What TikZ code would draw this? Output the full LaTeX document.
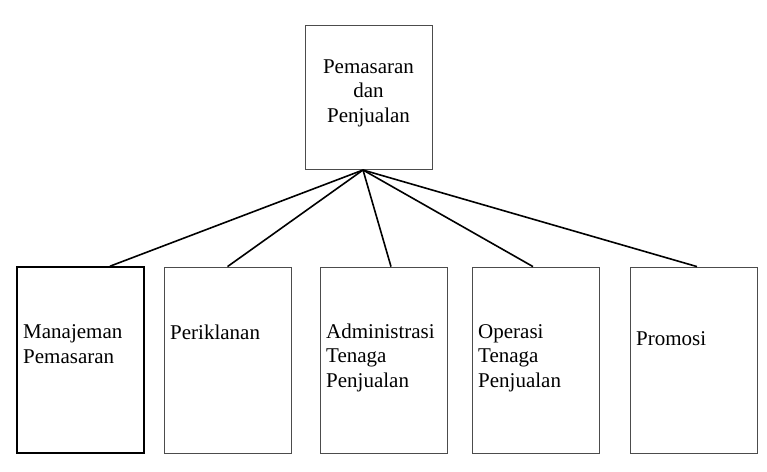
\documentclass[tikz,border=0pt]{standalone}
\usepackage{fontspec}
\setmainfont{Liberation Serif}
\begin{document}
\begin{tikzpicture}[x=1pt,y=-1pt,
        unitbox/.style={draw=black!70,line width=0.8pt,rectangle,inner sep=0pt,minimum width=127pt,minimum height=186pt},
        unittext/.style={inner sep=0pt,align=left,anchor=base west,font=\fontsize{21}{24.5}\selectfont},
        link/.style={line width=1.6pt}]
        \useasboundingbox (0,0) rectangle (767,471);
        \node[unitbox,minimum height=144pt] (top) at (368.5,97) {};
        \node[inner sep=0pt,align=center,anchor=base,font=\fontsize{21}{24.5}\selectfont] (toptext) at (368.5,122) {Pemasaran\\dan\\Penjualan};
        \node[unitbox,draw=black,line width=1.6pt] (mgr) at (80.5,360) {};
        \node[unitbox] (adv) at (227.5,360) {};
        \node[unitbox] (adm) at (384,360) {};
        \node[unitbox] (ops) at (536,360) {};
        \node[unitbox] (prm) at (693.5,360) {};
        \node[unittext] (mgrtext) at (23,363) {Manajeman\\Pemasaran};
        \node[unittext] (advtext) at (170,339) {Periklanan};
        \node[unittext] (admtext) at (326,387) {Administrasi\\Tenaga\\Penjualan};
        \node[unittext] (opstext) at (478,387) {Operasi\\Tenaga\\Penjualan};
        \node[unittext] (prmtext) at (636,345) {Promosi};
        \coordinate (apex) at (363,170);
        \draw [link] (apex) -- ([xshift=29.5pt]mgr.north);
        \draw [link] (apex) -- (adv.north);
        \draw [link] (apex) -- ([xshift=7pt]adm.north);
        \draw [link] (apex) -- ([xshift=-3pt]ops.north);
        \draw [link] (apex) -- ([xshift=3.5pt]prm.north);
\end{tikzpicture}
\end{document}
